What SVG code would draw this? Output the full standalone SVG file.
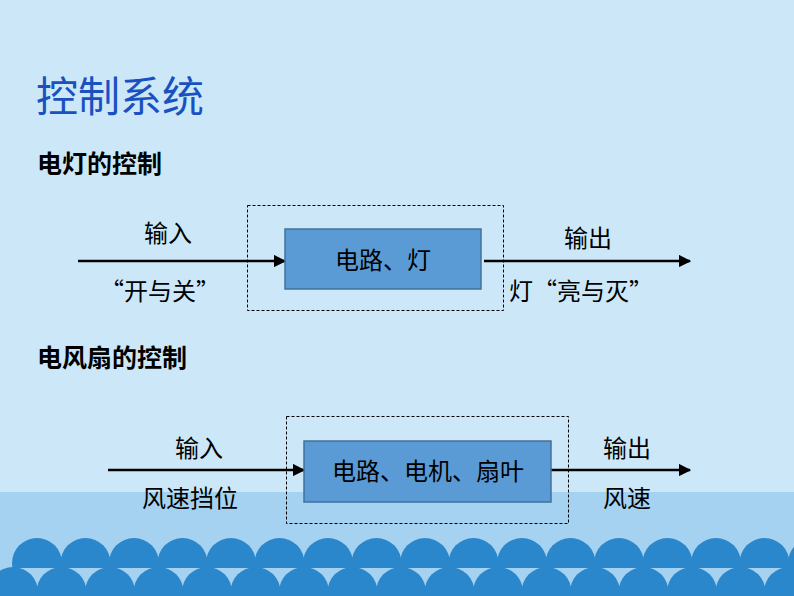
<svg xmlns="http://www.w3.org/2000/svg" width="794" height="596" viewBox="0 0 794 596">
<defs>
<marker id="ah" viewBox="0 0 10 10" refX="9" refY="5" markerWidth="5" markerHeight="5" orient="auto"><path d="M0,0L10,5L0,10z" fill="#000"/></marker>
<clipPath id="top"><rect x="0" y="0" width="794" height="568"/></clipPath>
</defs>
<style>
text{font-family:"Noto Sans CJK SC","Liberation Sans",sans-serif;fill:#000}
.lbl{font-size:24px;text-anchor:middle}
.h{font-size:25px;font-weight:bold}
.dash{fill:none;stroke:#000;stroke-width:1;stroke-dasharray:3,2}
.box{fill:#5b9bd5;stroke:#41719c;stroke-width:1.5}
.ar{stroke:#000;stroke-width:2.5;marker-end:url(#ah)}
.w circle{fill:#2b87cc}
</style>
<rect width="794" height="596" fill="#cce8f8"/>
<rect y="492" width="794" height="104" fill="#a6d2f1"/>
<g id="waves" class="w">
<g clip-path="url(#top)">
<circle cx="37" cy="563" r="25"/><circle cx="85.5" cy="563" r="25"/><circle cx="134" cy="563" r="25"/><circle cx="182.5" cy="563" r="25"/><circle cx="231" cy="563" r="25"/><circle cx="279.5" cy="563" r="25"/><circle cx="328" cy="563" r="25"/><circle cx="376.5" cy="563" r="25"/><circle cx="425" cy="563" r="25"/><circle cx="473.5" cy="563" r="25"/><circle cx="522" cy="563" r="25"/><circle cx="570.5" cy="563" r="25"/><circle cx="619" cy="563" r="25"/><circle cx="667.5" cy="563" r="25"/><circle cx="716" cy="563" r="25"/><circle cx="764.5" cy="563" r="25"/><circle cx="813" cy="563" r="25"/>
</g>
<circle cx="13" cy="592" r="25"/><circle cx="61.5" cy="592" r="25"/><circle cx="110" cy="592" r="25"/><circle cx="158.5" cy="592" r="25"/><circle cx="207" cy="592" r="25"/><circle cx="255.5" cy="592" r="25"/><circle cx="304" cy="592" r="25"/><circle cx="352.5" cy="592" r="25"/><circle cx="401" cy="592" r="25"/><circle cx="449.5" cy="592" r="25"/><circle cx="498" cy="592" r="25"/><circle cx="546.5" cy="592" r="25"/><circle cx="595" cy="592" r="25"/><circle cx="643.5" cy="592" r="25"/><circle cx="692" cy="592" r="25"/><circle cx="740.5" cy="592" r="25"/><circle cx="789" cy="592" r="25"/>
</g>
<text x="36" y="112" font-size="42" style="fill:#1a50c0">控制系统</text>
<text class="h" x="37" y="173">电灯的控制</text>
<text class="h" x="37" y="367">电风扇的控制</text>
<g id="connectors">
<line class="ar" x1="78" y1="261" x2="285" y2="261"/>
<line class="ar" x1="484" y1="261" x2="690" y2="261"/>
<line class="ar" x1="108" y1="470" x2="304" y2="470"/>
<line class="ar" x1="551" y1="470" x2="690" y2="470"/>
</g>
<g id="sys1">
<rect class="dash" x="247.5" y="205.5" width="256" height="105"/>
<rect class="box" x="285" y="229" width="196" height="60"/>
<text class="lbl" x="383" y="269">电路、灯</text>
</g>
<g id="sys2">
<rect class="dash" x="286.5" y="416.5" width="282" height="107"/>
<rect class="box" x="304" y="441" width="247" height="61"/>
<text class="lbl" x="428" y="480">电路、电机、扇叶</text>
</g>
<g id="labels">
<text class="lbl" x="168" y="242">输入</text>
<text class="lbl" x="160" y="300">“开与关”</text>
<text class="lbl" x="588" y="247">输出</text>
<text class="lbl" x="581" y="300">灯“亮与灭”</text>
<text class="lbl" x="199" y="457">输入</text>
<text class="lbl" x="190" y="507">风速挡位</text>
<text class="lbl" x="627" y="457">输出</text>
<text class="lbl" x="627" y="507">风速</text>
</g>
</svg>
